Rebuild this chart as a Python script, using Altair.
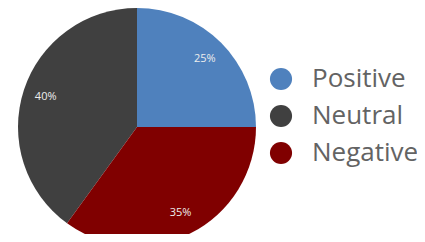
import altair as alt
import pandas as pd

categories = ["Positive", "Neutral", "Negative"]
values = [25, 40, 35]
colors = ["#4F81BD", "#404040", "#800000"]
draw_order = [0, 2, 1]
labels = ["25%", "40%", "35%"]

df = pd.DataFrame({"cat": categories, "val": values, "ord": draw_order, "lab": labels})

base = alt.Chart(df).encode(
    theta=alt.Theta("val:Q", stack=True),
    order=alt.Order("ord:Q"),
)

pie = base.mark_arc(radius=119, stroke=None).encode(
    color=alt.Color(
        "cat:N",
        scale=alt.Scale(domain=categories, range=colors),
        legend=alt.Legend(
            title=None,
            orient="none",
            legendX=260,
            legendY=58,
            symbolType="circle",
            symbolSize=490,
            symbolStrokeWidth=0,
            symbolOpacity=1,
            labelFontSize=26,
            labelFont="Open Sans",
            labelColor="#636363",
            labelOffset=18,
            rowPadding=11,
            padding=0,
            labelLimit=300,
        ),
    ),
    x=alt.value(129),
    y=alt.value(119),
)

text = base.mark_text(radius=96, fontSize=11, font="Open Sans", color="#EDEDED").encode(
    text="lab:N",
    x=alt.value(129),
    y=alt.value(119),
)

chart = alt.layer(pie, text).properties(
    width=409,
    height=226,
    autosize=alt.AutoSizeParams(type="none"),
    padding=0,
    background="white",
).configure_view(stroke=None)

chart.save("out.html", embed_options={"renderer": "svg", "actions": False})
